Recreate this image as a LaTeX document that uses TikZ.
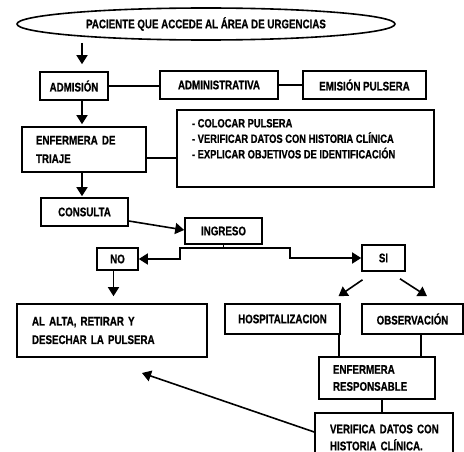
\documentclass[tikz,border=0pt]{standalone}
\usepackage{fontspec}
\setmainfont{Liberation Sans}[FakeStretch=0.78, BoldFeatures={FakeBold=0.7}]
\usetikzlibrary{shapes.geometric,arrows.meta,calc}
\begin{document}
\begin{tikzpicture}[x=1pt,y=-1pt,
  every node/.style={font=\fontsize{12.5}{13}\selectfont\bfseries, inner sep=0pt},
  box/.style={draw, line width=1.6pt, rectangle},
  conn/.style={line width=1.6pt},
  arr/.style={conn, -{Triangle[length=9pt,width=11pt]}}]
\useasboundingbox (0,0) rectangle (464,452);
\clip (0,0) rectangle (464,452);
\fill[white] (0,0) rectangle (464,452);

\node[draw, ellipse, line width=1.6pt, minimum width=378pt, minimum height=32pt] (ell) at (206,24) {PACIENTE QUE ACCEDE AL ÁREA DE URGENCIAS};
\node[box, minimum width=68pt, minimum height=28pt] (adm) at (74,86) {ADMISIÓN};
\node[box, minimum width=118pt, minimum height=28pt] (admin) at (219,85) {ADMINISTRATIVA};
\node[box, minimum width=123pt, minimum height=28pt] (emis) at (364.5,85) {EMISIÓN PULSERA};
\node[box, align=left, text width=96pt, inner xsep=14pt, minimum height=45pt, font=\fontsize{12.5}{18.5}\selectfont\bfseries] (triaje) at (84,149.5) {ENFERMERA DE\\TRIAJE};
\node[box, minimum width=257pt, minimum height=77pt] (lista) at (305.5,148.5) {\parbox[c][77pt][t]{227pt}{\fontsize{12}{15.5}\selectfont\bfseries\vspace*{9pt}- COLOCAR PULSERA\\- VERIFICAR DATOS CON HISTORIA CLÍNICA\\- EXPLICAR OBJETIVOS DE IDENTIFICACIÓN}};
\node[box, minimum width=87pt, minimum height=28pt] (cons) at (84.5,212) {CONSULTA};
\node[box, minimum width=77pt, minimum height=26pt] (ing) at (223.5,231) {INGRESO};
\node[box, minimum width=41pt, minimum height=22pt] (no) at (117.5,259) {NO};
\node[box, minimum width=43pt, minimum height=26pt] (si) at (383.5,258) {SI};
\node[box, align=left, text width=160pt, inner xsep=15pt, minimum height=53pt, font=\fontsize{12.5}{18.5}\selectfont\bfseries] (alta) at (112,330.5) {AL ALTA, RETIRAR Y\\DESECHAR LA PULSERA};
\node[box, minimum width=115pt, minimum height=30pt] (hosp) at (282.5,319) {HOSPITALIZACION};
\node[box, minimum width=101pt, minimum height=30pt] (obs) at (412.5,319) {OBSERVACIÓN};
\node[box, align=left, text width=88pt, inner xsep=14pt, minimum height=42pt, font=\fontsize{12.5}{17}\selectfont\bfseries] (resp) at (377,378) {ENFERMERA\\RESPONSABLE};
\node[box, align=left, text width=108pt, inner xsep=15pt, minimum height=49pt, font=\fontsize{12.5}{17}\selectfont\bfseries] (verif) at (384,437.5) {\mbox{VERIFICA DATOS CON}\\\mbox{HISTORIA CLÍNICA.}};

\coordinate (a1) at ($(adm.north)+(8,0)$);
\draw[arr, shorten >=7pt, shorten <=2pt] (a1 |- ell.south) -- (a1);
\draw[conn] (adm.east) -- (adm.east -| admin.west);
\draw[conn] (admin.east) -- (emis.west);
\coordinate (a2) at ($(adm.south)+(8,0)$);
\draw[arr, shorten >=2pt] (a2) -- (a2 |- triaje.north);
\coordinate (t1) at ($(triaje.east)+(0,8.5)$);
\draw[conn] (t1) -- (t1 -| lista.west);
\coordinate (a3) at ($(triaje.south)+(-2,0)$);
\draw[arr, shorten >=1pt] (a3) -- (a3 |- cons.north);
\draw[arr] ($(cons.east)+(0,9)$) -- ($(ing.west)+(0,-1)$);
\draw[arr] (ing.south) |- ($(ing.south)+(-43.5,3)$) |- (no.east);
\draw[arr] (ing.south) |- ($(ing.south)+(66.5,3)$) |- (si.west);
\coordinate (a4) at ($(no.south)+(-4,0)$);
\draw[arr, shorten >=7pt] (a4) -- (a4 |- alta.north);
\draw[arr] ($(si.south)+(-21,8)$) -- ($(hosp.north)+(56,-7)$);
\draw[arr] ($(si.south)+(16.5,7)$) -- ($(obs.north)+(14.5,-7)$);
\coordinate (h1) at ($(hosp.south)+(56.5,0)$);
\draw[conn] (h1) -- (h1 |- resp.north);
\coordinate (o1) at ($(obs.south)+(8.5,0)$);
\draw[conn] (o1) -- (o1 |- resp.north);
\coordinate (r1) at ($(resp.south)+(5,0)$);
\draw[conn] (r1) -- (r1 |- verif.north);
\coordinate (tip) at (142,373);
\draw[arr] ($(verif.west)+(0,-5.5)$) -- (tip);
\end{tikzpicture}
\end{document}
